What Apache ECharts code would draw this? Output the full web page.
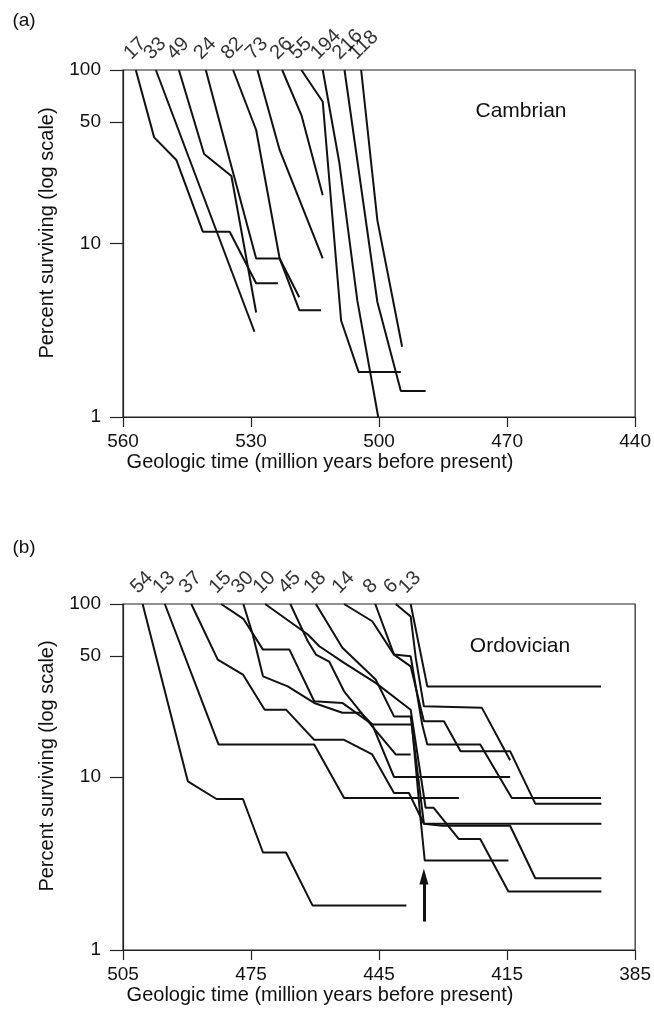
<!DOCTYPE html>
<html><head><meta charset="utf-8">
<script src="https://cdn.jsdelivr.net/npm/echarts@6/dist/echarts.min.js"></script>
<style>html,body{margin:0;padding:0;background:#fff}#c{width:654px;height:1019px}</style>
</head><body><div id="c"></div><script>
const FONT = '"Liberation Sans", Arial, Helvetica, sans-serif';
const INK = '#111111';

// ---- axis ticks ----
const xTicksA = [560, 530, 500, 470, 440];
const xTicksB = [505, 475, 445, 415, 385];
const yTicks = [1, 10, 50, 100];

// ---- (a) Cambrian: [Ma, percent surviving] ----
const labelsA = ['17','33','49','24','82','73','26','55','194','216','118'];
const a17  = [[557.0,100],[552.7,40.9],[547.5,30.3],[541.3,11.7],[535.0,11.7],[528.8,5.9],[523.7,5.9]];
const a33  = [[552.3,100],[529.2,3.1]];
const a49  = [[546.9,100],[541.0,32.8],[534.6,24.5],[528.8,4.0]];
const a24  = [[540.6,100],[535.0,30.3],[528.8,8.2],[523.3,8.2],[518.7,4.9]];
const a82  = [[534.2,100],[528.8,45.1],[523.3,8.2],[518.7,4.13],[513.6,4.13]];
const a73  = [[528.5,100],[523.3,34.6],[513.2,8.2]];
const a26  = [[522.7,100],[518.2,55.0],[513.2,19.0]];
const a55  = [[518.2,100],[513.2,65.6],[508.9,3.6],[504.8,1.82],[494.9,1.82]];
const a194 = [[513.2,100],[509.3,29.1],[505.1,4.7],[500.2,1.0]];
const a216 = [[508.1,100],[500.4,4.6],[494.9,1.41],[489.1,1.41]];
const a118 = [[504.2,100],[500.4,13.6],[494.6,2.54]];
const seriesA = [a17,a33,a49,a24,a82,a73,a26,a55,a194,a216,a118];

// ---- (b) Ordovician ----
const labelsB = ['54','13','37','15','30','10','45','18','14','8','6','13'];
const b54  = [[500.4,100],[489.8,9.43],[483.1,7.46],[476.9,7.46],[472.2,3.66],[466.8,3.66],[460.6,1.81],[438.6,1.81]];
const b13a = [[495.2,100],[482.6,15.4],[460.2,15.4],[453.2,7.56],[426.3,7.56]];
const b37  = [[489.0,100],[482.8,47.7],[476.9,39.1],[471.8,24.5],[466.8,24.5],[460.2,16.4],[453.2,16.4],[446.6,13.5],[441.5,8.08],[438.0,8.08],[434.5,5.37],[430.2,5.23],[414.3,5.23],[408.4,2.6],[392.9,2.6]];
const b15  = [[482.0,100],[476.8,82.1],[472.2,54.5],[466.0,54.5],[460.2,27.4],[453.6,26.8],[446.6,20.1],[437.3,20.1],[435.3,5.81],[434.3,3.29],[414.7,3.29]];
const b30  = [[476.8,100],[474.6,66.6],[472.2,38.2],[466.4,33.4],[460.2,26.8],[453.6,23.5],[449.3,23.5],[446.6,20.1],[441.5,10.0],[414.3,10.0]];
const b10  = [[471.7,100],[461.7,66.6],[459.0,57.0],[453.2,45.7],[445.8,35.0],[437.6,24.5],[434.1,6.64],[432.2,6.64],[426.3,4.38],[421.3,4.38],[414.7,2.18],[392.9,2.18]];
const b45  = [[465.8,100],[461.7,60.9],[459.8,51.0],[456.7,46.5],[453.2,31.3],[446.6,19.6],[441.1,13.5],[437.6,13.5]];
const b18  = [[459.8,100],[453.6,55.8],[445.8,36.6],[441.5,22.4],[437.6,22.4],[434.5,5.37],[392.9,5.37]];
const b14  = [[453.2,100],[446.6,79.5],[441.5,51.0],[437.6,43.6],[434.5,21.0],[429.8,21.0],[425.9,14.1],[414.3,14.1],[408.4,7.01],[392.9,7.01]];
const b8   = [[445.9,100],[441.5,51.0],[437.6,49.9],[434.9,20.1],[433.7,15.4],[421.3,15.4],[413.9,7.56],[393.0,7.56]];
const b6   = [[441.1,100],[437.6,84.7],[436.4,48.8],[434.5,25.6],[420.9,25.1],[414.3,12.5]];
const b13b = [[437.6,100],[433.7,33.4],[393.0,33.4]];
const seriesB = [b54,b13a,b37,b15,b30,b10,b45,b18,b14,b8,b6,b13b];
const arrowB = [[434.5,1.46],[434.5,2.66]];

// ---- build option ----
function xAxisFor(gi, ticks) {
  return {
    type: 'value', gridIndex: gi, inverse: true,
    min: Math.min(...ticks), max: Math.max(...ticks),
    axisLine: {show: true, lineStyle: {color: '#222', width: 1.2}},
    axisTick: {show: true, inside: false, length: 10, customValues: ticks, lineStyle: {color: '#222', width: 1.2}},
    axisLabel: {customValues: ticks, margin: 15, fontFamily: FONT, fontSize: 19, color: INK},
    splitLine: {show: false}
  };
}
function yAxisFor(gi) {
  return {
    type: 'log', logBase: 10, gridIndex: gi, min: 1, max: 100,
    axisLine: {show: true, lineStyle: {color: '#222', width: 1.2}},
    axisTick: {show: true, length: 13, customValues: yTicks, lineStyle: {color: '#222', width: 1.2}},
    axisLabel: {customValues: yTicks, margin: 22, fontFamily: FONT, fontSize: 19, color: INK},
    minorTick: {show: false}, splitLine: {show: false}
  };
}
function lineSeries(data, gi) {
  return {
    type: 'line', xAxisIndex: gi, yAxisIndex: gi, data: data,
    showSymbol: false, symbol: 'none', silent: true, animation: false,
    lineStyle: {color: INK, width: 2}
  };
}
function labelSeries(arrs, labels, gi) {
  return {
    type: 'scatter', xAxisIndex: gi, yAxisIndex: gi, silent: true, animation: false,
    symbolSize: 1, itemStyle: {color: 'rgba(0,0,0,0)'},
    data: arrs.map((a, i) => ({value: a[0], name: labels[i]})),
    label: {
      show: true, formatter: '{b}', rotate: 45, position: [-1, -6],
      align: 'left', verticalAlign: 'bottom',
      fontFamily: FONT, fontSize: 20, color: '#000'
    }
  };
}

const series = [];
seriesA.forEach(d => series.push(lineSeries(d, 0)));
seriesB.forEach(d => series.push(lineSeries(d, 1)));
series.push(labelSeries(seriesA, labelsA, 0));
series.push(labelSeries(seriesB, labelsB, 1));
series.push({
  type: 'line', xAxisIndex: 1, yAxisIndex: 1, data: [], silent: true, animation: false,
  markLine: {
    silent: true, animation: false,
    symbol: ['none', 'triangle'], symbolSize: [9, 16],
    label: {show: false},
    lineStyle: {color: INK, width: 3, type: 'solid'},
    data: [[{coord: arrowB[0]}, {coord: arrowB[1]}]]
  }
});

const txt = (t, x, y, size, rot) => ({
  type: 'text', x: x, y: y, rotation: rot || 0, silent: true,
  style: {text: t, font: size + 'px ' + FONT, fill: INK, textAlign: 'center', textVerticalAlign: 'middle'}
});

const option = {
  backgroundColor: '#fff',
  animation: false,
  grid: [
    {left: 123, top: 70, width: 514, height: 347, show: true, borderColor: '#222', borderWidth: 1.2, containLabel: false},
    {left: 123, top: 604, width: 514, height: 346, show: true, borderColor: '#222', borderWidth: 1.2, containLabel: false}
  ],
  xAxis: [xAxisFor(0, xTicksA), xAxisFor(1, xTicksB)],
  yAxis: [yAxisFor(0), yAxisFor(1)],
  series: series,
  graphic: [
    txt('(a)', 24, 21, 19),
    txt('(b)', 24, 548, 19),
    txt('Cambrian', 521, 111, 21),
    txt('Ordovician', 520, 646, 21),
    txt('Percent surviving (log scale)', 47, 233, 20, Math.PI / 2),
    txt('Percent surviving (log scale)', 47, 766, 20, Math.PI / 2),
    txt('Geologic time (million years before present)', 320, 462, 20),
    txt('Geologic time (million years before present)', 320, 995, 20)
  ]
};
const chart = echarts.init(document.getElementById('c'), null, {renderer: 'canvas'});
chart.setOption(option);
</script></body></html>
